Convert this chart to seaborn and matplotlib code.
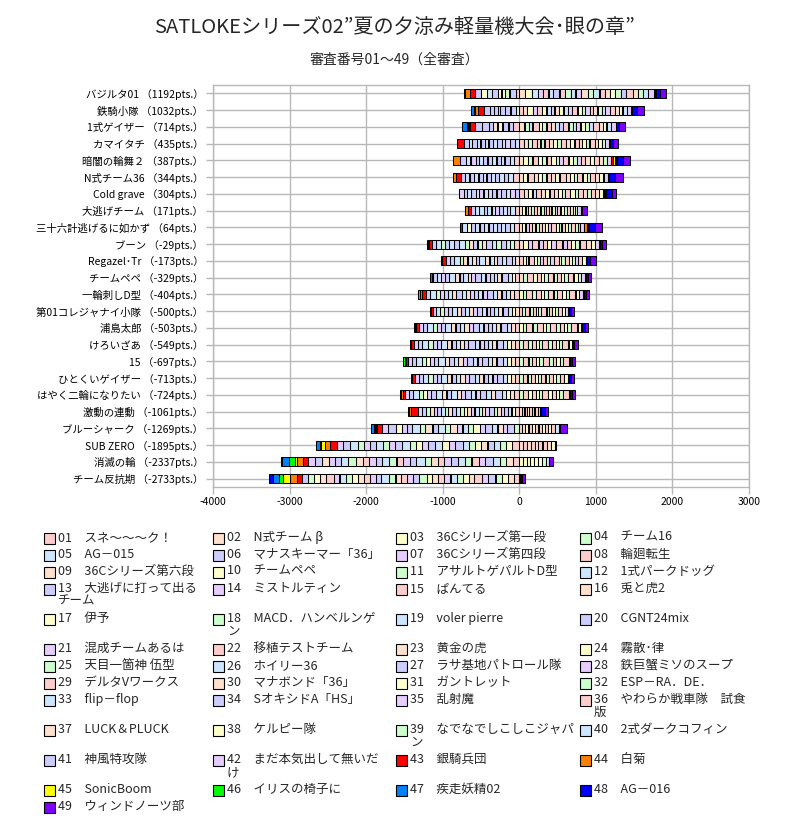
import matplotlib
matplotlib.use("Agg")
import matplotlib.pyplot as plt
from matplotlib.patches import Rectangle
import numpy as np
import pandas as pd
import seaborn as sns

W, H = 789, 833

title = "SATLOKEシリーズ02”夏の夕涼み軽量機大会･眼の章”"
subtitle = "審査番号01～49（全審査）"

team_names = ["バジルタ01", "鉄騎小隊", "1式ゲイザー", "カマイタチ", "暗闇の輪舞２", "N式チーム36",
              "Cold grave", "大逃げチーム", "三十六計逃げるに如かず", "ブーン", "Regazel･Tr", "チームペペ",
              "一輪刺しD型", "第01コレジャナイ小隊", "浦島太郎", "けろいざあ", "15", "ひとくいゲイザー",
              "はやく二輪になりたい", "激動の連動", "ブルーシャーク", "SUB ZERO", "消滅の輪", "チーム反抗期"]
team_points = [1192, 1032, 714, 435, 387, 344, 304, 171, 64, -29, -173, -329,
               -404, -500, -503, -549, -697, -713, -724, -1061, -1269, -1895, -2337, -2733]

judge_names = ["スネ～～～ク！", "N式チーム β", "36Cシリーズ第一段", "チーム16", "AG－015",
               "マナスキーマー「36」", "36Cシリーズ第四段", "輪廻転生", "36Cシリーズ第六段", "チームペペ",
               "アサルトゲパルトD型", "1式パークドッグ", "大逃げに打って出るチーム", "ミストルティン", "ぱんてる",
               "兎と虎2", "伊予", "MACD．ハンベルンゲン", "voler pierre", "CGNT24mix",
               "混成チームあるは", "移植テストチーム", "黄金の虎", "霧散･律", "天目一箇神 伍型",
               "ホイリー36", "ラサ基地パトロール隊", "鉄巨蟹ミソのスープ", "デルタVワークス", "マナボンド「36」",
               "ガントレット", "ESP－RA．DE．", "flip－flop", "SオキシドA「HS」", "乱射魔",
               "やわらか戦車隊　試食版", "LUCK＆PLUCK", "ケルピー隊", "なでなでしこしこジャパン", "2式ダークコフィン",
               "神風特攻隊", "まだ本気出して無いだけ", "銀騎兵団", "白菊", "SonicBoom",
               "イリスの椅子に", "疾走妖精02", "AG－016", "ウィンドノーツ部"]

x_ticks = [-4000, -3000, -2000, -1000, 0, 1000, 2000, 3000]

# points given by judges 01..49 to each team (top bar first)
t01 = [-47, 70, 90, 8, 75, -80, 65, 70, 8, -8, -50, 60, 72, 10, 75, -6, -40, 68, 60, 8, 70,
       -8, 90, -45, 65, 75, -70, 9, 70, 72, 62, 70, -70, 66, 8, 85, 68, -80, 70, 60, -80, 85,
       -61, -65, -8, 5, 10, 55, 85]
t02 = [55, 48, 70, -40, 10, -70, 45, 72, -12, 50, 12, 55, -70, 40, 8, 52, 55, 10, 48, -55, 55,
       70, 8, 50, 45, -30, -50, 70, 40, 52, 10, 50, 45, -60, 55, 68, 50, 48, 10, 55, -75, 52,
       -74, -43, 5, -8, -43, 65, 90]
t03 = [-80, 65, 8, 48, 50, -60, 10, 75, -8, 45, 50, 8, -70, -8, 55, 48, -55, 10, 52, 45, -8,
       70, -60, 8, 50, 45, -45, 55, 10, -8, 50, 48, 52, -85, 10, 75, 45, 50, 8, 55, -85, 58,
       -78, -8, -8, -13, -74, 43, 74]
t04 = [60, 50, 8, 45, -55, -70, -61, 62, 48, 10, 45, -45, -60, 8, 58, 50, 52, 45, -50, -55, -8,
       75, 48, 50, 10, -45, -55, -8, 55, 45, 50, 42, -45, -55, 10, 58, 45, 55, 40, -50, -60, 50,
       -87, 3, 3, 3, 6, 30, 65]
t05 = [-70, 55, 60, 50, -55, -60, 10, 65, -10, 58, 52, -45, -55, 8, 62, -8, 55, 50, -50, -60, 48,
       65, 10, 58, 50, -8, -55, 48, 60, 55, 52, 10, -45, -50, -60, 62, 55, -8, 50, -60, -75, 55,
       22, -87, 22, 17, 10, 87, 83]
t06 = [-82, 55, 50, 10, -60, -55, -8, 82, 50, 55, 48, -55, -60, 8, 60, 52, 50, 10, -50, -55, -10,
       80, 55, 50, 45, -45, -50, -8, 58, 10, 52, 48, -55, -50, -8, 60, 50, 55, 8, -60, -55, 52,
       -65, -30, 8, 5, 5, 78, 100]
t07 = [60, 55, 50, 8, 45, -60, -67, 62, 50, 55, 10, -50, -60, -55, 60, 52, 48, 45, -10, -55, -50,
       58, 10, 55, 48, -55, -8, -50, 60, 50, 8, 45, -50, -55, -8, 58, 50, 55, 10, -45, -50, -55,
       10, 5, 5, 5, 5, 78, 43]
t08 = [-60, 35, 40, 8, -55, -8, -38, 31, 35, 8, 38, -50, -55, -45, 42, 35, 8, 40, -50, -10, 35,
       30, 30, 8, 38, -45, -50, 35, 42, 8, 38, 35, -55, -8, 8, 30, 38, 35, 30, -50, -55, 40,
       -35, -35, -5, 4, 4, 5, 70]
t09 = [-68, 38, 40, 8, -55, -60, 35, 45, 38, 8, 40, -50, -55, -8, 45, 35, 38, 8, -50, -55, 35,
       61, -8, 40, 35, -50, -55, 8, 42, -10, 38, 35, -55, -50, 8, 45, -8, -50, 38, -65, 35, 42,
       -22, 43, 8, 5, 8, 83, 96]
t10 = [-75, 55, 58, -50, -52, -58, 52, 80, -10, 10, -55, -52, -80, 55, 58, -50, 52, -55, -10, -58, 55,
       80, -52, 10, -55, -80, -55, 55, 58, -10, 52, 55, -58, -55, 10, 82, 55, 58, -52, -60, -57, 56,
       -40, -13, 5, -13, 5, 30, 45]
t11 = [42, -50, 40, 38, -48, -72, 8, 65, -10, 40, 38, -50, -55, 42, 45, -48, 8, 40, -52, -10, 42,
       65, -50, 38, 40, -75, -50, 8, 45, -48, 42, 40, -52, -10, 38, 60, -50, 42, -48, -72, -52, -50,
       -60, -10, 5, 5, 5, 40, 80]
t12 = [-52, 45, -48, 62, -50, -75, -10, 75, -50, 45, 8, -48, -55, -52, 48, -10, 45, 42, -50, -75, -52,
       75, -48, 8, 45, -55, -50, -10, 48, -52, 42, 45, -78, -50, -52, 72, 8, 48, 45, -55, -50, 50,
       -10, -8, 5, 5, -20, 30, 40]
t13 = [-75, -50, 45, 42, -52, -55, -10, 75, -50, 8, 45, -52, -77, -50, 68, -10, 45, 42, -55, -52, -50,
       75, -55, 8, 45, -52, -77, -10, 66, -50, 45, 42, -55, -52, -50, 78, 8, 48, -55, -75, -55, 50,
       -40, -30, -8, -20, 5, 25, 45]
t14 = [38, -50, -48, 35, -50, -70, -10, 60, -48, 8, 36, -50, -52, -48, 38, -10, 35, 38, -50, -70, -48,
       60, -50, 8, 36, -52, -50, -10, 38, -48, 35, 36, -68, -50, -48, 52, 8, 38, -50, -52, -50, 40,
       -25, -8, 5, 5, 5, 20, 40]
t15 = [-55, -52, 48, 45, -55, -78, -10, 78, -52, 8, 48, -55, -58, -52, 77, -10, 48, 45, -55, -78, -52,
       78, -55, 8, 48, -58, -55, -10, 50, -52, 48, 45, -78, -55, -52, 80, 8, 50, -55, -72, -55, -52,
       -40, -10, 5, -13, 5, 30, 45]
t16 = [-55, -52, -50, 42, -55, -80, -10, 70, -52, 8, 45, -55, -58, -52, 48, -10, 45, 42, -55, -80, -52,
       72, -55, 8, 45, -58, -55, -10, 48, -52, 45, 42, -80, -55, -52, 75, 8, 48, -55, -80, -55, -52,
       -35, -8, -8, 5, 5, 20, 45]
t17 = [-55, -52, -50, 42, -55, -80, -10, 75, -52, 8, 45, -55, -82, -52, 48, -10, 45, 42, -55, -80, -52,
       77, -55, 8, 45, -64, -55, -10, 48, -52, 45, 42, -80, -55, -52, 79, 8, -52, -55, -80, -55, -52,
       -25, -8, -8, -20, 5, 20, 45]
t18 = [-55, -52, -50, 42, -55, -80, -50, 58, -12, 8, 45, -55, -58, -10, 48, -50, 45, 42, -55, -80, -52,
       50, -55, 8, 45, -58, -55, -10, 48, -52, 45, 42, -80, -55, -52, 52, 8, 48, -55, -70, -55, -52,
       -40, -8, 5, 5, 5, 20, 45]
t19 = [-75, -52, -50, 42, -55, -80, -10, 73, -52, 45, 8, -55, -82, -52, 48, -10, 45, 42, -55, -80, -52,
       75, -55, 45, 8, -80, -55, -10, 48, -52, 45, 42, -80, -55, -52, 80, 8, -52, -55, -80, -55, -52,
       -30, -25, -8, 5, 5, 20, 45]
t20 = [-60, 30, -40, -8, -45, -48, -42, 35, -45, 8, -40, -8, -62, -45, 30, -42, 25, -45, -48, -10, -45,
       35, -48, -42, -45, -62, -45, -8, 28, -48, 8, -45, -50, -48, -45, 40, -42, -8, -45, 30, -62, -48,
       -87, -30, -8, 4, 10, 52, 43]
t21 = [40, 35, 42, -65, 8, -90, -60, 45, -68, 38, -10, -65, -92, -62, 40, 8, -88, -65, -68, -12, -65,
       45, -90, 38, -68, -92, -70, -10, 42, -92, 35, -68, -95, -72, -70, 48, 8, -68, -10, 50, -95, -83,
       -65, -8, -13, -13, -43, 10, 87]
t22 = [-100, 45, -75, -78, -82, -80, -10, 50, -78, -80, -75, -82, -105, -78, 8, 48, -80, -12, -82, -95, -80,
       52, 45, -78, -80, -105, -82, -80, 50, 8, -10, -78, -85, -82, -80, 55, 48, 56, -78, -105, -82, -80,
       -91, -65, -56, -13, -56, 5, 5]
t23 = [-85, -88, 45, -80, -85, -110, -82, -88, -12, 50, -85, -88, -90, -85, -82, -88, 48, -85, -110, -88, -85,
       -82, -15, 52, -88, -90, -85, -88, -82, -85, 45, -105, -88, -85, -82, 8, -88, 55, 48, 41, -90, -85,
       -65, -78, -30, -78, -100, -5, 52]
t24 = [-75, -78, -72, -80, -10, -98, -75, -99, -72, -78, -75, -80, -12, -78, -75, -80, -72, -98, 12, -80, -75,
       -78, -72, -10, -80, -98, -75, -80, -72, -78, -75, -80, -78, -12, -75, -100, -78, -75, -80, 10, -78, 10,
       -70, -87, -87, -56, -78, -52, 46]

score_rows = [t01, t02, t03, t04, t05, t06, t07, t08, t09, t10, t11, t12,
              t13, t14, t15, t16, t17, t18, t19, t20, t21, t22, t23, t24]

pastel = ["#FFCCCC", "#FFE0CC", "#FFFFCC", "#CCFFCC", "#CCE6FF", "#CCCCFF", "#E6CCFF"]
strong = ["#FF0000", "#FF8000", "#FFFF00", "#00FF00", "#0080FF", "#0000FF", "#8000FF"]
judge_colors = pastel * 6 + strong

sns.set_theme(style="white")
plt.rcParams["font.family"] = ["Noto Sans CJK JP", "DejaVu Sans"]

# stack negatives to the left of 0 and positives to the right, in judge order
df = pd.DataFrame(score_rows, columns=range(1, 50))
neg = df.clip(upper=0)
pos = df.clip(lower=0)
lefts = (neg.cumsum(axis=1) - neg).where(df < 0, pos.cumsum(axis=1) - pos)

fig = plt.figure(figsize=(W / 100, H / 100), dpi=100)
ax = fig.add_axes([213 / W, 1 - 487 / H, 536 / W, 402 / H])

ypos = np.arange(len(team_names))
for j in df.columns:
    ax.barh(ypos, df[j], left=lefts[j], height=0.54, color=judge_colors[j - 1],
            edgecolor="black", linewidth=0.75, zorder=3)

grid_col = "#B8B8B8"
ax.set_xlim(-4000, 3000)
ax.set_ylim(len(team_names) - 0.5, -0.5)
ax.set_xticks(x_ticks)
ax.set_xticklabels([str(v) for v in x_ticks], fontsize=7.5)
ax.set_yticks(ypos)
ax.set_yticklabels([f"{n} （{p}pts.）" for n, p in zip(team_names, team_points)], fontsize=7.5)
ax.grid(True, color=grid_col, linewidth=1.0)
ax.set_axisbelow(True)
for s in ax.spines.values():
    s.set_color(grid_col)
    s.set_linewidth(1.0)
ax.tick_params(axis="both", colors=grid_col, labelcolor="black", length=5, width=1.0,
               direction="out", left=True, bottom=True, pad=2)

fig.text(0.5, 1 - 27 / H, title, ha="center", va="center", fontsize=14.5)
fig.text(0.5, 1 - 60 / H, subtitle, ha="center", va="center", fontsize=10)

# legend, 4 columns under the plot
legend_breaks = {13: 9, 18: 11, 36: 10, 39: 11, 42: 10}
col_x = [44, 213, 396, 580]
row_y = 538
for start in range(0, len(judge_names), 4):
    nums = list(range(start + 1, min(start + 5, len(judge_names) + 1)))
    wrapped = any(n in legend_breaks for n in nums)
    for c, n in enumerate(nums):
        x0 = col_x[c]
        fig.add_artist(Rectangle((x0 / W, 1 - (row_y + 5.5) / H), 11 / W, 11 / H,
                                 transform=fig.transFigure, facecolor=judge_colors[n - 1],
                                 edgecolor="black", linewidth=0.8))
        name = judge_names[n - 1]
        if n in legend_breaks:
            k = legend_breaks[n]
            name = name[:k] + "\n" + name[k:]
        fig.text((x0 + 14) / W, 1 - (row_y - 7) / H, f"{n:02d}　{name}",
                 ha="left", va="top", fontsize=9, linespacing=1.0)
    row_y += 30 if wrapped else 17

fig.savefig("out.png", dpi=100)
